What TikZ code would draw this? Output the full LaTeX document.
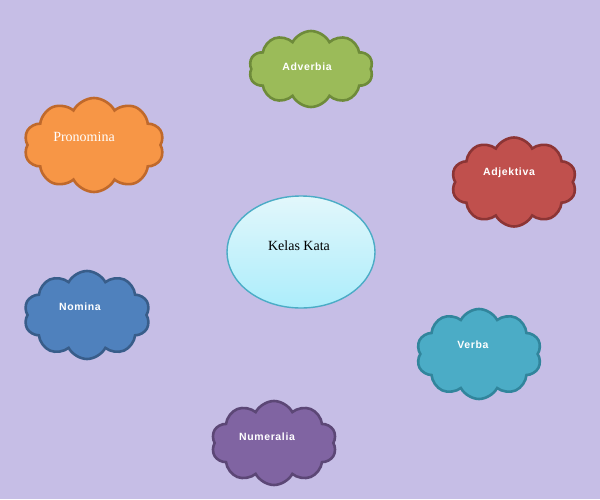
\documentclass[tikz,border=0pt]{standalone}
\usepackage{fontspec}
\setmainfont{Liberation Serif}
\setsansfont{Liberation Sans}
\usetikzlibrary{shapes.symbols,shapes.geometric}
\definecolor{bgc}{HTML}{C6BEE6}
\definecolor{grF}{HTML}{9BBB59}\definecolor{grD}{HTML}{6E8B3A}
\definecolor{orF}{HTML}{F79646}\definecolor{orD}{HTML}{C0692B}
\definecolor{rdF}{HTML}{C0504D}\definecolor{rdD}{HTML}{8C3535}
\definecolor{blF}{HTML}{4F81BD}\definecolor{blD}{HTML}{385D8A}
\definecolor{tlF}{HTML}{4BACC6}\definecolor{tlD}{HTML}{31859C}
\definecolor{puF}{HTML}{8064A2}\definecolor{puD}{HTML}{5C4776}
\definecolor{cyT}{HTML}{E2F7FB}\definecolor{cyB}{HTML}{ACEDFB}\definecolor{cyD}{HTML}{4BACC6}
\tikzset{
  puff/.style={cloud, cloud puffs=10, cloud puff arc=125, cloud ignores aspect,
    line width=2.6pt, inner sep=0pt, minimum width=120pt, minimum height=80pt},
  ptext/.style={text=white, font=\sffamily\bfseries\fontsize{10.5}{12}\selectfont\addfontfeature{LetterSpace=6}},
}
\begin{document}
\begin{tikzpicture}[x=1pt,y=-1pt]
\fill[bgc] (0,0) rectangle (600,499);
\useasboundingbox (0,0) rectangle (600,499);
% clouds
\node[puff, fill=grF, draw=grD, minimum width=124pt, minimum height=76pt] (adv) at (311,69) {};
\node[puff, fill=orF, draw=orD, minimum width=140pt, minimum height=94pt] (pro) at (94,145) {};
\node[puff, fill=rdF, draw=rdD, minimum width=125pt, minimum height=89pt] (adj) at (514,182) {};
\node[puff, fill=blF, draw=blD, minimum width=126pt, minimum height=88pt] (nom) at (87,315) {};
\node[puff, fill=tlF, draw=tlD, minimum width=125pt, minimum height=90pt] (ver) at (479,354) {};
\node[puff, fill=puF, draw=puD, minimum width=125pt, minimum height=84pt] (num) at (274,443) {};
% labels
\node[ptext] (advt) at (307,67) {Adverbia};
\node[text=white, font=\fontsize{14}{16}\selectfont] (prot) at (84,137) {Pronomina};
\node[ptext] (adjt) at (509,173) {Adjektiva};
\node[ptext] (nomt) at (80,307) {Nomina};
\node[ptext] (vert) at (473,345) {Verba};
\node[ptext] (numt) at (267,437) {Numeralia};
% center ellipse
\node[ellipse, draw=cyD, line width=1.4pt, top color=cyT, bottom color=cyB,
  minimum width=148pt, minimum height=112pt] (kk) at (301,252) {};
\node[font=\fontsize{14}{16}\selectfont] (kkt) at (299,246) {Kelas Kata};
\end{tikzpicture}
\end{document}
